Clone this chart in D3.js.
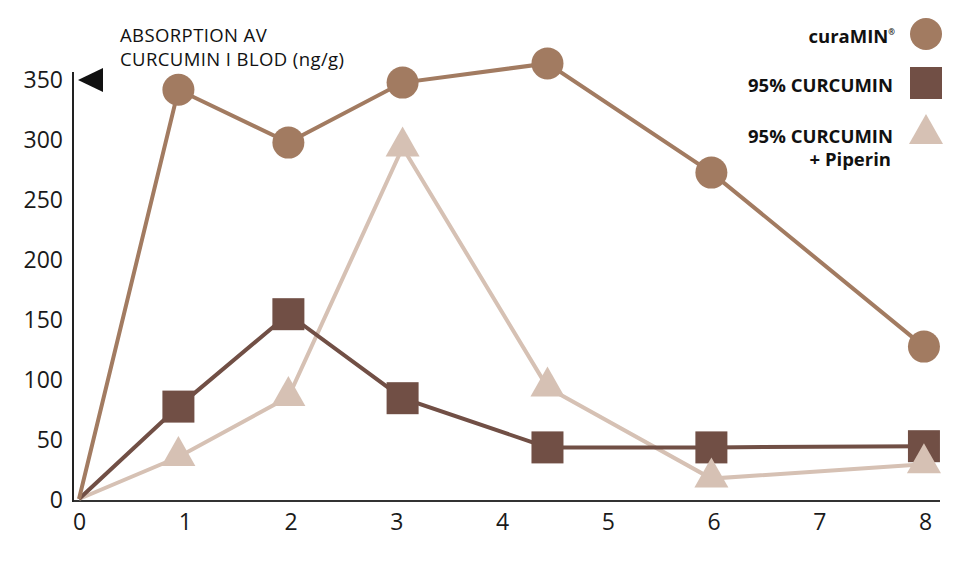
<!DOCTYPE html>
<html>
<head>
<meta charset="utf-8">
<script src="https://cdn.jsdelivr.net/npm/d3@7"></script>
<style>
  body { margin: 0; background: #fff; }
  svg { display: block; }
  .axis text { font-family: 'Open Sans', sans-serif; fill: #1a1a1a; }
</style>
</head>
<body>
<div id="chart"></div>
<script>
// Data
const hours = [0, 0.94, 1.98, 3.06, 4.43, 5.98, 7.99]
const curamin = [0, 341, 297, 347, 363, 272, 127]
const curcumin95 = [0, 77, 154, 84, 43, 43, 44]
const piperin = [0, 35, 85, 293, 93, 17, 29]
const xTicks = [0, 1, 2, 3, 4, 5, 6, 7, 8]
const yTicks = [0, 50, 100, 150, 200, 250, 300, 350]
const seriesNames = ['curaMIN', '95% CURCUMIN', '95% CURCUMIN']
const colors = ['#a27b61', '#714f45', '#d6c1b4']

const width = 980
const height = 561

const svg = d3
  .select('#chart')
  .append('svg')
  .attr('width', width)
  .attr('height', height)

const x = d3.scaleLinear().domain([0, 8]).range([79, 925])
const y = d3.scaleLinear().domain([0, 350]).range([499, 79])

// axes lines
svg.append('line')
  .attr('x1', 73).attr('x2', 940)
  .attr('y1', 501).attr('y2', 501)
  .attr('stroke', '#333').attr('stroke-width', 2)
svg.append('line')
  .attr('x1', 73).attr('x2', 73)
  .attr('y1', 72).attr('y2', 502)
  .attr('stroke', '#222').attr('stroke-width', 2)

// arrow at top of y axis
svg.append('path')
  .attr('d', 'M78,80 L103,68 L103,92 Z')
  .attr('fill', '#111')

// tick labels through axes
const xAxis = d3.axisBottom(x).tickValues(xTicks).tickSize(0).tickPadding(13)
svg.append('g')
  .attr('class', 'axis')
  .attr('transform', 'translate(0,501)')
  .call(xAxis)
  .call(g => g.select('.domain').remove())
  .selectAll('text').attr('font-size', 23)

const yAxis = d3.axisLeft(y).tickValues(yTicks).tickSize(0).tickPadding(10)
svg.append('g')
  .attr('class', 'axis')
  .attr('transform', 'translate(73,0)')
  .call(yAxis)
  .call(g => g.select('.domain').remove())
  .selectAll('text').attr('font-size', 23).attr('dy', '0.35em')

// title
const title = svg.append('text')
  .attr('font-family', "'Open Sans', sans-serif")
  .attr('font-size', 18.5)
  .attr('letter-spacing', 0.4)
  .attr('fill', '#111')
title.append('tspan').attr('x', 120).attr('y', 42).text('ABSORPTION AV')
title.append('tspan').attr('x', 120).attr('y', 66).text('CURCUMIN I BLOD (ng/g)')

const line = d3.line()
  .x((d, i) => x(hours[i]))
  .y(d => y(d))

const allSeries = [curamin, curcumin95, piperin]

// lines, drawn back to front
;[2, 1, 0].forEach(k => {
  svg.append('path')
    .datum(allSeries[k])
    .attr('d', line)
    .attr('fill', 'none')
    .attr('stroke', colors[k])
    .attr('stroke-width', 4)
})

const triPath = 'M0,-17 L17,13 L-17,13 Z'

// markers (skip the origin point)
svg.selectAll('.sq')
  .data(curcumin95.slice(1))
  .enter()
  .append('rect')
  .attr('class', 'sq')
  .attr('x', (d, i) => x(hours[i + 1]) - 16)
  .attr('y', d => y(d) - 16)
  .attr('width', 32)
  .attr('height', 32)
  .attr('fill', colors[1])

svg.selectAll('.tri')
  .data(piperin.slice(1))
  .enter()
  .append('path')
  .attr('class', 'tri')
  .attr('transform', (d, i) => 'translate(' + x(hours[i + 1]) + ',' + (y(d) - 4) + ')')
  .attr('d', triPath)
  .attr('fill', colors[2])

svg.selectAll('.dot')
  .data(curamin.slice(1))
  .enter()
  .append('circle')
  .attr('class', 'dot')
  .attr('cx', (d, i) => x(hours[i + 1]))
  .attr('cy', d => y(d))
  .attr('r', 16)
  .attr('fill', colors[0])

// legend
const legend = svg.append('g')
  .attr('font-family', "'Open Sans', sans-serif")
  .attr('font-weight', 700)
  .attr('font-size', 18.5)
  .attr('fill', '#111')
  .attr('text-anchor', 'end')

const l1 = legend.append('text').attr('x', 895).attr('y', 43)
l1.append('tspan').text(seriesNames[0])
l1.append('tspan').attr('font-size', 8).attr('dy', -8).text('®')
legend.append('text').attr('x', 893).attr('y', 92).text(seriesNames[1])
legend.append('text').attr('x', 893).attr('y', 143).text(seriesNames[2])
legend.append('text').attr('x', 891).attr('y', 166).text('+ Piperin')

svg.append('circle').attr('cx', 926).attr('cy', 34).attr('r', 16).attr('fill', colors[0])
svg.append('rect').attr('x', 910).attr('y', 67).attr('width', 32).attr('height', 32).attr('fill', colors[1])
svg.append('path').attr('transform', 'translate(926,131)').attr('d', triPath).attr('fill', colors[2])
</script>
</body>
</html>
